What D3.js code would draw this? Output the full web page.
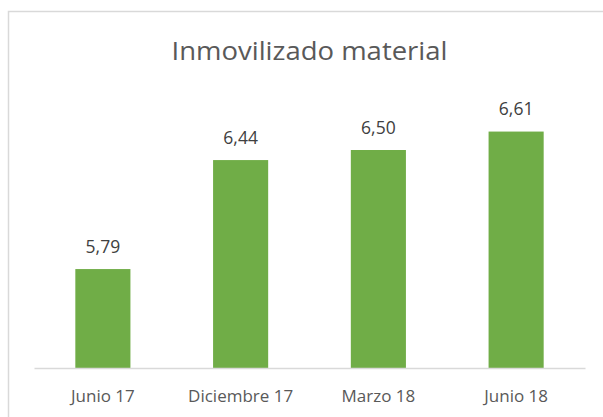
<!DOCTYPE html>
<html>
<head>
<meta charset="utf-8">
<script src="https://cdn.jsdelivr.net/npm/d3@7"></script>
<style>
    html, body { margin: 0; padding: 0; background: #fff; }
    svg { display: block; font-family: "Open Sans", sans-serif; }
</style>
</head>
<body>
<div id="chart"></div>
<script>
const categories = ['Junio 17', 'Diciembre 17', 'Marzo 18', 'Junio 18'];
const values = [5.79, 6.44, 6.50, 6.61];
const yDomain = [5.2, 6.8];
const title = 'Inmovilizado material';

const width = 603;
const height = 417;
const plot = { left: 34, right: 585, top: 99.7, bottom: 368 };

let svg = d3.select('#chart')
    .append('svg')
    .attr('width', width)
    .attr('height', height);

// chart frame (runs off the right and bottom edge)
svg.append('rect')
    .attr('x', 8.5)
    .attr('y', 11.5)
    .attr('width', 620)
    .attr('height', 430)
    .attr('fill', '#fff')
    .attr('stroke', '#d9d9d9')
    .attr('stroke-width', 1.5);

svg.append('text')
    .attr('x', (plot.left + plot.right) / 2)
    .attr('y', 59.5)
    .attr('text-anchor', 'middle')
    .attr('font-size', 26)
    .attr('textLength', 276)
    .attr('lengthAdjust', 'spacingAndGlyphs')
    .attr('fill', '#595959')
    .text(title);

let x = d3.scaleBand()
    .domain(categories)
    .range([plot.left, plot.right])
    .paddingInner(0.6)
    .paddingOuter(0.3);

let y = d3.scaleLinear()
    .domain(yDomain)
    .range([plot.bottom, plot.top]);

let data = categories.map((c, i) => ({ cat: c, value: values[i] }));

svg.selectAll('.bar')
    .data(data)
    .enter().append('rect')
    .attr('class', 'bar')
    .attr('x', d => x(d.cat))
    .attr('y', d => y(d.value))
    .attr('width', x.bandwidth())
    .attr('height', d => y(yDomain[0]) - y(d.value))
    .attr('fill', '#70ad47');

svg.selectAll('.label')
    .data(data)
    .enter().append('text')
    .attr('class', 'label')
    .attr('x', d => x(d.cat) + x.bandwidth() / 2)
    .attr('y', d => y(d.value) - 16.5)
    .attr('text-anchor', 'middle')
    .attr('font-size', 17.5)
    .attr('fill', '#404040')
    .text(d => d3.format('.2f')(d.value).replace('.', ','));

let xAxis = svg.append('g')
    .attr('transform', `translate(0,${plot.bottom})`)
    .call(d3.axisBottom(x).tickSize(0).tickPadding(22));

xAxis.select('.domain')
    .attr('stroke', '#d9d9d9')
    .attr('stroke-width', 1.5);

xAxis.selectAll('text')
    .attr('font-family', '"Open Sans", sans-serif')
    .attr('font-size', 17)
    .attr('fill', '#595959');
</script>
</body>
</html>
